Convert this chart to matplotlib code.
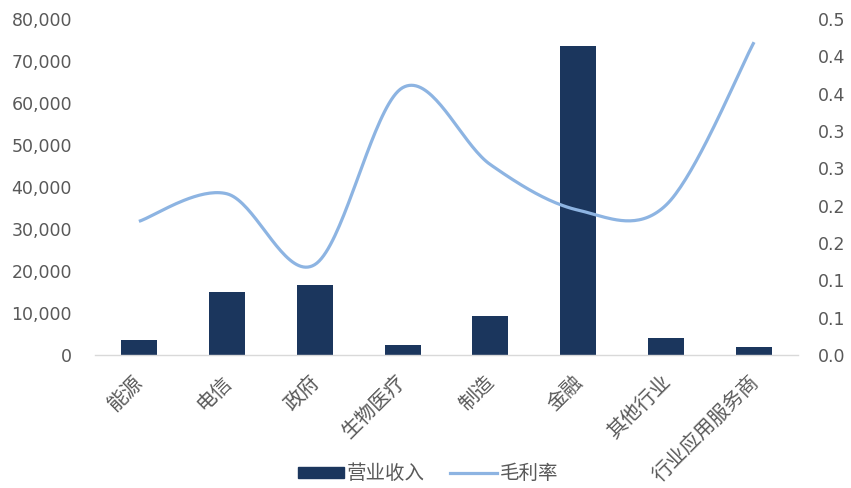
import matplotlib
matplotlib.use("Agg")
import matplotlib.pyplot as plt
import matplotlib.transforms as mtransforms
import numpy as np
from matplotlib.lines import Line2D
from matplotlib.patches import Patch

categories = ['能源', '电信', '政府', '生物医疗', '制造', '金融', '其他行业', '行业应用服务商']
revenue = [3500, 15000, 16600, 2400, 9300, 73600, 4100, 1800]
margin = [0.179, 0.216, 0.121, 0.358, 0.255, 0.194, 0.201, 0.419]

left_ticks = [0, 10000, 20000, 30000, 40000, 50000, 60000, 70000, 80000]
right_ticks = [0.0, 0.05, 0.10, 0.15, 0.20, 0.25, 0.30, 0.35, 0.40, 0.45]
right_labels = ['0.0', '0.1', '0.1', '0.2', '0.2', '0.3', '0.3', '0.4', '0.4', '0.5']

BAR = '#1B365D'
LINE = '#8DB4E2'
GREY = '#595959'
CJK = ['Noto Sans CJK SC', 'DejaVu Sans']

plt.rcParams['font.family'] = CJK

fig = plt.figure(figsize=(8.51, 4.88), dpi=100)
ax = fig.add_axes([0.1116, 0.2725, 0.8261, 0.6885])
ax2 = ax.twinx()

x = np.arange(len(categories))
ax.bar(x, revenue, width=0.41, color=BAR, zorder=2)
ax.set_xlim(-0.5, len(categories) - 0.5)
ax.set_ylim(0, 80000)
ax.set_yticks(left_ticks)
ax.set_yticklabels([f'{v:,}' for v in left_ticks], fontsize=12.5, color=GREY,
                   family='DejaVu Sans')
ax.set_xticks(x)
ax.set_xticklabels(categories, rotation=45, ha='right', va='top',
                   rotation_mode='anchor', fontsize=14.5, color=GREY)
ax.tick_params(axis='both', length=0)
ax.tick_params(axis='x', pad=9)
ax.tick_params(axis='y', pad=16.5)
offset = mtransforms.ScaledTranslation(-6 / 100, -4 / 100, fig.dpi_scale_trans)
for lbl in ax.get_xticklabels():
    lbl.set_transform(lbl.get_transform() + offset)

# Catmull-Rom smoothing (Excel-style smoothed line)
def catmull_rom(px, py, n=40):
    px = np.asarray(px, float)
    py = np.asarray(py, float)
    P = np.column_stack([px, py])
    P = np.vstack([P[0], P, P[-1]])
    out = []
    for i in range(1, len(P) - 2):
        p0, p1, p2, p3 = P[i - 1], P[i], P[i + 1], P[i + 2]
        t = np.linspace(0, 1, n)[:, None]
        c1 = p1 + (p2 - p0) / 6
        c2 = p2 - (p3 - p1) / 6
        seg = ((1 - t) ** 3) * p1 + 3 * ((1 - t) ** 2) * t * c1 + 3 * (1 - t) * t ** 2 * c2 + t ** 3 * p2
        out.append(seg)
    out = np.vstack(out)
    return out[:, 0], out[:, 1]

sx, sy = catmull_rom(x, margin)
ax2.plot(sx, sy, color=LINE, lw=2.3, solid_capstyle='butt', zorder=3)
ax2.set_ylim(0, 0.45)
ax2.set_yticks(right_ticks)
ax2.set_yticklabels(right_labels, fontsize=12.5, color=GREY, family='DejaVu Sans')
ax2.tick_params(axis='y', length=0, pad=14)

for a in (ax, ax2):
    for s in a.spines.values():
        s.set_visible(False)
ax.spines['bottom'].set_visible(True)
ax.spines['bottom'].set_color('#D9D9D9')
ax.spines['bottom'].set_linewidth(1.0)

handles = [Patch(facecolor=BAR, edgecolor=BAR),
           Line2D([0], [0], color=LINE, lw=2.3)]
leg = fig.legend(handles, ['营业收入', '毛利率'], loc='center', bbox_to_anchor=(0.503, 0.029),
                 ncol=2, frameon=False, fontsize=14, handlelength=2.4, handleheight=0.55,
                 handletextpad=0.15, columnspacing=1.3)
for t in leg.get_texts():
    t.set_color(GREY)

fig.savefig('out.png', dpi=100, facecolor='white')
